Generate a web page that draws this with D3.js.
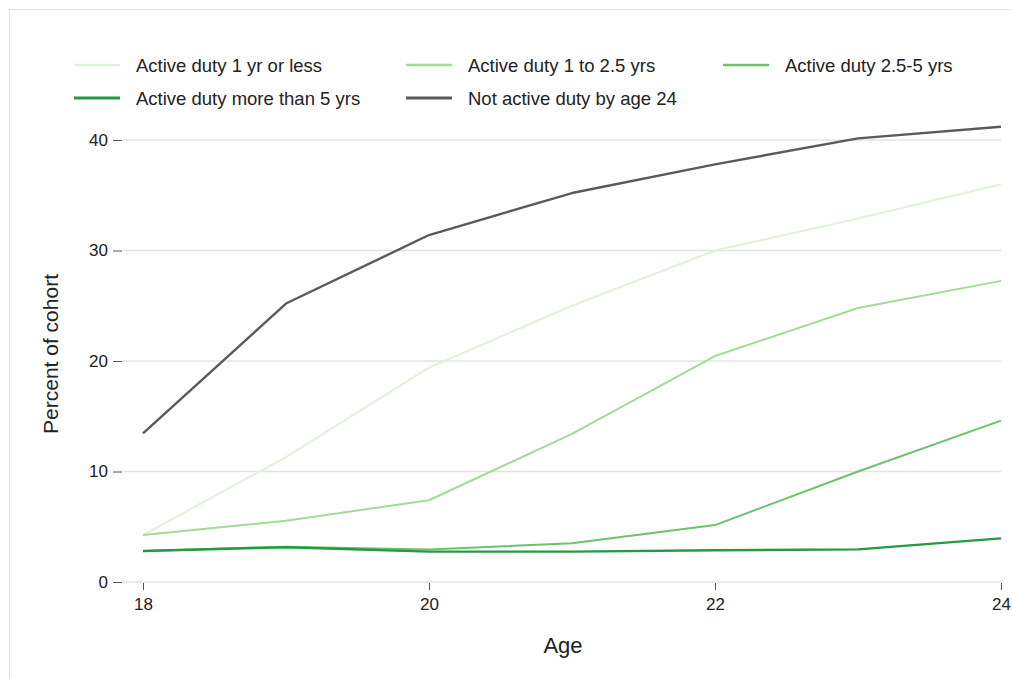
<!DOCTYPE html>
<html><head><meta charset="utf-8">
<script src="https://cdn.jsdelivr.net/npm/d3@7"></script>
<style>
body{margin:0;background:#fff;}
text{font-family:"Liberation Sans",Arial,Helvetica,sans-serif;fill:#222;}
</style></head>
<body>
<svg id="chart" width="1012" height="679"></svg>
<script>
const ages = [18, 19, 20, 21, 22, 23, 24];
const seriesNames = ["Active duty 1 yr or less", "Active duty 1 to 2.5 yrs", "Active duty 2.5-5 yrs", "Active duty more than 5 yrs", "Not active duty by age 24"];
const activeLe1 = [4.25, 11.3, 19.4, 25.0, 30.0, 32.9, 36.0];
const active1to25 = [4.25, 5.55, 7.4, 13.4, 20.45, 24.8, 27.25];
const active25to5 = [2.8, 3.2, 2.95, 3.5, 5.15, 10.0, 14.6];
const activeGt5 = [2.8, 3.15, 2.75, 2.75, 2.87, 2.95, 3.95];
const notActive = [13.45, 25.2, 31.4, 35.2, 37.8, 40.15, 41.2];
const yTicks = [0, 10, 20, 30, 40];
const xTicks = [18, 20, 22, 24];
const colors = ["#e0f2d9", "#a3da97", "#6cc36a", "#239a45", "#5a5a5a"];
const widths = [2, 2, 2, 2.4, 2.4];

const svg = d3.select("#chart");
svg.append("rect").attr("x", 9.5).attr("y", 9.5).attr("width", 1012).attr("height", 679)
  .attr("fill", "none").attr("stroke", "#e2e2e2").attr("stroke-width", 1);

const x = d3.scaleLinear().domain([18, 24]).range([143, 1001]);
const y = d3.scaleLinear().domain([0, 40]).range([582, 140]);

// gridlines
svg.append("g").selectAll("line").data(yTicks).join("line")
  .attr("x1", 123).attr("x2", 1001).attr("y1", d => y(d)).attr("y2", d => y(d))
  .attr("stroke", "#e3e3e3").attr("stroke-width", 1.5);

// y axis
const yAxis = svg.append("g").attr("transform", "translate(122,0)")
  .call(d3.axisLeft(y).tickValues(yTicks).tickFormat(d3.format("d")).tickSize(9).tickPadding(5));
yAxis.select(".domain").remove();
yAxis.selectAll(".tick line").attr("stroke", "#555").attr("stroke-width", 1);
yAxis.selectAll(".tick text").style("font-size", "17px").attr("fill", "#222");

// x axis
const xAxis = svg.append("g").attr("transform", "translate(0,583)")
  .call(d3.axisBottom(x).tickValues(xTicks).tickFormat(d3.format("d")).tickSize(7).tickPadding(8));
xAxis.select(".domain").remove();
xAxis.selectAll(".tick line").attr("stroke", "#555").attr("stroke-width", 1);
xAxis.selectAll(".tick text").style("font-size", "17px").attr("fill", "#222");

svg.append("text").attr("x", 563).attr("y", 653).attr("text-anchor", "middle")
  .style("font-size", "22px").text("Age");
svg.append("text").attr("transform", "translate(58,354) rotate(-90)").attr("text-anchor", "middle")
  .style("font-size", "21px").text("Percent of cohort");

const allSeries = [activeLe1, active1to25, active25to5, activeGt5, notActive];
const line = d3.line().x((d, i) => x(ages[i])).y(d => y(d));
allSeries.forEach((s, k) => {
  svg.append("path").datum(s).attr("d", line).attr("fill", "none")
    .attr("stroke", colors[k]).attr("stroke-width", widths[k])
    .attr("stroke-linejoin", "round").attr("stroke-linecap", "butt");
});

// legend
const legPos = [[74, 65], [406, 65], [723, 65], [74, 98], [406, 98]];
seriesNames.forEach((n, k) => {
  const [lx, ly] = legPos[k];
  svg.append("line").attr("x1", lx).attr("x2", lx + 46).attr("y1", ly).attr("y2", ly)
    .attr("stroke", colors[k]).attr("stroke-width", widths[k] + 0.6);
  svg.append("text").attr("x", lx + 62).attr("y", ly + 6.5).style("font-size", "18.5px").text(n);
});
</script>
</body></html>
